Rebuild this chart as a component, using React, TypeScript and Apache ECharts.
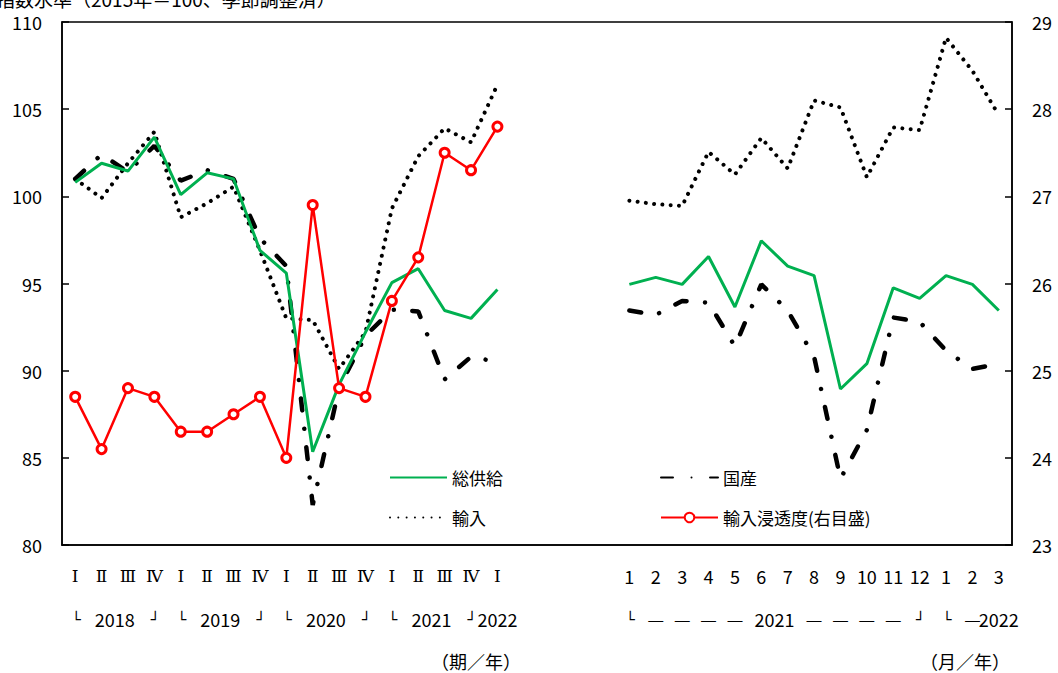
import React, { useEffect, useRef } from 'react';
import * as echarts from 'echarts';

// ---- categories ----
const quarterLabels = ['Ⅰ', 'Ⅱ', 'Ⅲ', 'Ⅳ', 'Ⅰ', 'Ⅱ', 'Ⅲ', 'Ⅳ', 'Ⅰ', 'Ⅱ', 'Ⅲ', 'Ⅳ', 'Ⅰ', 'Ⅱ', 'Ⅲ', 'Ⅳ', 'Ⅰ'];
const gapLabels = ['', '', '', ''];
const monthLabels = ['1', '2', '3', '4', '5', '6', '7', '8', '9', '10', '11', '12', '1', '2', '3'];

// ---- series values (index, 2015=100) quarterly 2018Q1-2022Q1 ----
const totalSupplyQ = [100.8, 101.9, 101.45, 103.4, 100.1, 101.35, 101.0, 96.9, 95.6, 85.35, 89.2, 92.2, 95.05, 95.85, 93.45, 93.0, 94.65];
const importsQ = [101.0, 99.9, 101.9, 103.7, 98.8, 99.6, 100.55, 96.9, 93.0, 92.9, 90.1, 92.2, 99.3, 102.3, 103.9, 103.1, 106.4];
const domesticQ = [101.0, 102.4, 101.4, 102.9, 100.9, 101.5, 101.0, 97.6, 96.0, 82.3, 89.0, 92.0, 93.5, 93.4, 89.5, 90.8, 90.5];
const penetrationQ = [24.7, 24.1, 24.8, 24.7, 24.3, 24.3, 24.5, 24.7, 24.0, 26.9, 24.8, 24.7, 25.8, 26.3, 27.5, 27.3, 27.8];

// ---- monthly 2021/1 - 2022/3 ----
const totalSupplyM = [94.95, 95.35, 94.95, 96.55, 93.65, 97.45, 96.0, 95.45, 88.95, 90.4, 94.75, 94.15, 95.45, 94.95, 93.45];
const importsM = [99.75, 99.55, 99.45, 102.55, 101.25, 103.35, 101.6, 105.5, 105.1, 101.1, 103.95, 103.8, 109.1, 107.2, 104.65];
const domesticM = [93.45, 93.2, 94.0, 93.9, 91.4, 94.95, 93.45, 90.8, 83.8, 86.6, 93.05, 92.8, 91.15, 90.1, 90.4];

// ---- axis / text ----
const leftAxisRange = { min: 80, max: 110, interval: 5 };
const rightAxisRange = { min: 23, max: 29, interval: 1 };
const titleText = '指数水準（2015年＝100、季節調整済）';
const unitQuarter = '（期／年）';
const unitMonth = '（月／年）';
// second label row: [text, category position]
const yearRow: [string, number][] = [
  ['└', 0], ['2018', 1.5], ['┘', 3],
  ['└', 4], ['2019', 5.5], ['┘', 7],
  ['└', 8], ['2020', 9.5], ['┘', 11],
  ['└', 12], ['2021', 13.5], ['┘', 15],
  ['2022', 16],
  ['└', 21], ['—', 22], ['—', 23], ['—', 24], ['—', 25], ['2021', 26.5],
  ['—', 28], ['—', 29], ['—', 30], ['—', 31], ['┘', 32],
  ['└', 33], ['—', 34], ['2022', 35],
];

const NAME_TOTAL = '総供給';
const NAME_IMPORT = '輸入';
const NAME_DOMESTIC = '国産';
const NAME_PEN = '輸入浸透度(右目盛)';

const categories = [...quarterLabels, ...gapLabels, ...monthLabels];
const gapNulls = gapLabels.map(() => null);
const join = (q: (number | null)[], m: (number | null)[]) => [...q, ...gapNulls, ...m];

const FONT = '"Noto Sans CJK JP", "Noto Sans", sans-serif';
const ROMAN = /[ⅠⅡⅢⅣ]/;

export default function App() {
  const ref = useRef<HTMLDivElement>(null);
  useEffect(() => {
    if (!ref.current) return;
    const chart = echarts.init(ref.current, undefined, { renderer: 'svg' });
    const legendBase = {
      orient: 'horizontal',
      padding: 0,
      itemWidth: 57,
      itemHeight: 12,
      selectedMode: false,
      textStyle: { fontSize: 17, color: '#000', fontFamily: FONT },
    };
    const noSymbol = { itemStyle: { opacity: 0 } };
    chart.setOption({
      animation: false,
      grid: { left: 62, right: 46, top: 22, bottom: 128, show: true, borderColor: '#000', borderWidth: 1.5, backgroundColor: 'transparent' },
      xAxis: {
        type: 'category',
        data: categories,
        boundaryGap: true,
        axisLine: { lineStyle: { color: '#000', width: 1.5 } },
        axisTick: { show: false },
        axisLabel: {
          interval: 0, fontSize: 18, color: '#000', margin: 22, fontFamily: FONT,
          formatter: (v: string) => (ROMAN.test(v) ? `{r|${v}}` : v),
          rich: { r: { fontFamily: '"DejaVu Serif", "Liberation Serif", serif', fontSize: 17, color: '#000' } },
        },
      },
      yAxis: [
        {
          type: 'value', ...leftAxisRange,
          axisLine: { show: true, lineStyle: { color: '#000', width: 1.5 } },
          axisTick: { show: true, inside: true, length: 7, lineStyle: { color: '#000', width: 1.5 } },
          axisLabel: { fontSize: 18, color: '#000', margin: 20, fontFamily: FONT },
          splitLine: { show: false },
        },
        {
          type: 'value', ...rightAxisRange, position: 'right',
          axisLine: { show: true, lineStyle: { color: '#000', width: 1.5 } },
          axisTick: { show: true, inside: true, length: 7, lineStyle: { color: '#000', width: 1.5 } },
          axisLabel: { fontSize: 18, color: '#000', margin: 20, fontFamily: FONT },
          splitLine: { show: false },
        },
      ],
      legend: [
        { ...legendBase, ...noSymbol, data: [NAME_TOTAL], left: 389, top: 469 },
        { ...legendBase, ...noSymbol, data: [NAME_DOMESTIC], left: 660, top: 469, lineStyle: { cap: 'round' } },
        { ...legendBase, ...noSymbol, data: [NAME_IMPORT], left: 389, top: 509, lineStyle: { cap: 'round' } },
        { ...legendBase, data: [NAME_PEN], left: 660, top: 509 },
      ],
      series: [
        {
          name: NAME_IMPORT, type: 'line', yAxisIndex: 0, data: join(importsQ, importsM),
          symbol: 'none', connectNulls: false,
          lineStyle: { color: '#000', width: 4, type: [0.01, 8.3], cap: 'round' },
          itemStyle: { color: '#000' },
        },
        {
          name: NAME_DOMESTIC, type: 'line', yAxisIndex: 0, data: join(domesticQ, domesticM),
          symbol: 'none', connectNulls: false,
          lineStyle: { color: '#000', width: 4.5, type: [12, 18.5, 0.01, 18.5], cap: 'round' },
          itemStyle: { color: '#000' },
        },
        {
          name: NAME_TOTAL, type: 'line', yAxisIndex: 0, data: join(totalSupplyQ, totalSupplyM),
          symbol: 'none', connectNulls: false,
          lineStyle: { color: '#00B050', width: 3 },
          itemStyle: { color: '#00B050' },
        },
        {
          name: NAME_PEN, type: 'line', yAxisIndex: 1, data: join(penetrationQ, monthLabels.map(() => null)),
          symbol: 'circle', symbolSize: 9, showSymbol: true, connectNulls: false,
          lineStyle: { color: '#FF0000', width: 2.5 },
          itemStyle: { color: '#FFFFFF', borderColor: '#FF0000', borderWidth: 3 },
        },
      ],
    });

    const px = (pos: number) => {
      const lo = Math.floor(pos);
      const hi = Math.ceil(pos);
      const a = chart.convertToPixel({ xAxisIndex: 0 }, lo) as number;
      const b = chart.convertToPixel({ xAxisIndex: 0 }, hi) as number;
      return a + (b - a) * (pos - lo);
    };
    const rowY = 619;
    const graphics: any[] = yearRow.map(([t, pos]) => {
      const isBracket = t === '└' || t === '┘';
      const isDash = t === '—';
      return {
        type: 'text',
        x: px(pos) + (isBracket ? 1 : 0),
        y: isBracket ? rowY + 1 : rowY,
        style: {
          text: t,
          fill: '#000',
          align: 'center',
          verticalAlign: 'middle',
          fontSize: isBracket ? 15 : isDash ? 15 : 18,
          fontWeight: isBracket ? 'bold' : 'normal',
          fontFamily: isDash ? '"Liberation Sans", sans-serif' : isBracket ? '"DejaVu Sans", sans-serif' : FONT,
        },
      };
    });
    graphics.push(
      { type: 'text', x: 521, y: 661, style: { text: unitQuarter, fill: '#000', align: 'right', verticalAlign: 'middle', fontSize: 18, fontFamily: FONT } },
      { type: 'text', x: 1010, y: 661, style: { text: unitMonth, fill: '#000', align: 'right', verticalAlign: 'middle', fontSize: 18, fontFamily: FONT } },
      { type: 'text', x: -4, y: 8, style: { text: titleText, fill: '#000', align: 'left', verticalAlign: 'bottom', fontSize: 19, fontFamily: FONT } },
    );
    chart.setOption({ graphic: graphics });
    return () => chart.dispose();
  }, []);
  return (
    <div
      ref={ref}
      style={{ position: 'absolute', left: 0, top: 0, width: 1058, height: 673, background: '#fff' }}
    />
  );
}
